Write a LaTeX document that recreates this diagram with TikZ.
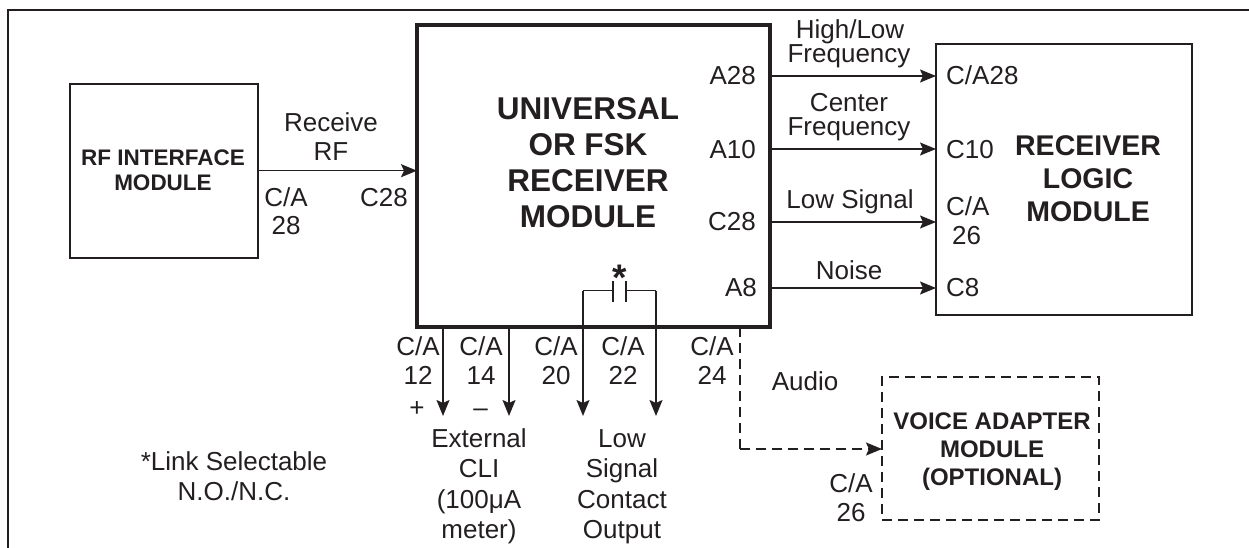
\documentclass[tikz,border=0pt]{standalone}
\usepackage{fontspec}
\setmainfont{Liberation Sans}
\usetikzlibrary{arrows.meta}
\definecolor{ink}{RGB}{35,31,32}
\tikzset{
  box/.style={draw=ink, line width=1.8pt, inner sep=0pt, outer sep=0pt},
  arr/.style={draw=ink, line width=1.6pt, -{Stealth[length=16pt,width=13pt,inset=3pt]}},
  dline/.style={draw=ink, line width=2pt, dash pattern=on 10pt off 6pt},
  t/.style={inner sep=0pt, anchor=base, text=ink, font=\fontsize{26}{30}\selectfont},
  tl/.style={t, anchor=base west},
  tr/.style={t, anchor=base east},
  bmain/.style={t, font=\fontsize{31.5}{36}\selectfont\bfseries},
  brf/.style={t, font=\fontsize{22.5}{26}\selectfont\bfseries},
  blog/.style={t, font=\fontsize{28.5}{32}\selectfont\bfseries},
  bvoice/.style={t, font=\fontsize{24}{28}\selectfont\bfseries},
}
\begin{document}
\begin{tikzpicture}[x=1pt, y=-1pt]
\useasboundingbox (0,0) rectangle (1249,548);
% frame
\draw[ink, line width=2.5pt] (8,560) -- (8,10) -- (1260,10);

% boxes
\node[box, minimum width=188pt, minimum height=174pt] (rf) at (164,170.7) {};
\node[box, line width=4.5pt, minimum width=353pt, minimum height=302pt] (main) at (593.5,176) {};
\node[box, minimum width=256pt, minimum height=271pt] (logic) at (1064,179.7) {};
\node[box, dline, minimum width=217pt, minimum height=143pt] (voice) at (990.5,448.5) {};

% RF interface text
\node[brf] (rf1) at (163,166) {RF INTERFACE};
\node[brf] (rf2) at (163,190) {MODULE};
\node[t] (rcv1) at (331,132) {Receive};
\node[t] (rcv2) at (331,160.5) {RF};
\node[t] (rfca) at (286,206) {C/A};
\node[t] (rf28) at (286,234.5) {28};
\node[t] (mc28) at (384,206) {C28};
\draw[arr] (rf.east) -- (main.west |- rf.east);

% main box text
\node[bmain] (m1) at (588,119.7) {UNIVERSAL};
\node[bmain] (m2) at (588,156) {OR FSK};
\node[bmain] (m3) at (588,192) {RECEIVER};
\node[bmain] (m4) at (588,227.5) {MODULE};
\node[tr] (pa28) at (756,84.8) {A28};
\node[tr] (pa10) at (756,158.8) {A10};
\node[tr] (pc28) at (756,230.3) {C28};
\node[tr] (pa8) at (757,296.6) {A8};

% outputs to logic
\coordinate (oA28) at (770,76);
\coordinate (oA10) at (770,149);
\coordinate (oC28) at (770,222);
\coordinate (oA8) at (770,288);
\draw[arr] (oA28) -- (oA28 -| logic.west);
\draw[arr] (oA10) -- (oA10 -| logic.west);
\draw[arr] (oC28) -- (oC28 -| logic.west);
\draw[arr] (oA8) -- (oA8 -| logic.west);
\node[t] (hl1) at (850,38.4) {High/Low};
\node[t] (hl2) at (849,62.8) {Frequency};
\node[t] (cf1) at (849,111.7) {Center};
\node[t] (cf2) at (849,135.4) {Frequency};
\node[t] (ls) at (850,208.7) {Low Signal};
\node[t] (ns) at (849,279) {Noise};

% logic box text
\node[tl] (lca28) at (946,84.8) {C/A28};
\node[tl] (lc10) at (946,158.8) {C10};
\node[tl] (lca) at (946,215) {C/A};
\node[tl] (l26) at (952,244.3) {26};
\node[tl] (lc8) at (946,296.6) {C8};
\node[blog] (lg1) at (1088,155.3) {RECEIVER};
\node[blog] (lg2) at (1088,188.5) {LOGIC};
\node[blog] (lg3) at (1088,221.6) {MODULE};

% bottom outputs
\coordinate (b12) at (443,327);
\coordinate (b14) at (509,327);
\coordinate (b20) at (583,290.5);
\coordinate (b22) at (656,290.5);
\coordinate (e12) at (443,416);
\coordinate (e14) at (509,416);
\coordinate (e20) at (583,416);
\coordinate (e22) at (656,416);
\draw[arr] (b12) -- (e12);
\draw[arr] (b14) -- (e14);
\draw[arr] (b20) -- (e20);
\draw[arr] (b22) -- (e22);
% link capacitor
\coordinate (pl1t) at (613,281);
\coordinate (pl1b) at (613,302);
\coordinate (pl2t) at (626,281);
\coordinate (pl2b) at (626,302);
\draw[ink, line width=1.6pt] (b20) -- (b20 -| pl1t);
\draw[ink, line width=1.6pt] (b22) -- (b22 -| pl2t);
\draw[ink, line width=1.8pt] (pl1t) -- (pl1b);
\draw[ink, line width=1.8pt] (pl2t) -- (pl2b);
\node[t, font=\fontsize{37}{40}\selectfont\bfseries] (star) at (620,290) {*};

\node[t] (ca12) at (418,355.3) {C/A};
\node[t] (n12) at (418,384) {12};
\node[t] (plus) at (417,416) {+};
\node[t] (ca14) at (481,355.3) {C/A};
\node[t] (n14) at (481,384) {14};
\node[t] (minus) at (480.5,416) {–};
\node[t] (ca20) at (556,355.3) {C/A};
\node[t] (n20) at (556,384) {20};
\node[t] (ca22) at (623,355.3) {C/A};
\node[t] (n22) at (623,384) {22};
\node[t] (ca24) at (712,355.3) {C/A};
\node[t] (n24) at (712,384) {24};

\node[t] (ex1) at (479,447) {External};
\node[t] (ex2) at (479,477) {CLI};
\node[t] (ex3) at (479,508) {(100μA};
\node[t] (ex4) at (479,538) {meter)};
\node[t] (lo1) at (622,447) {Low};
\node[t] (lo2) at (622,477) {Signal};
\node[t] (lo3) at (622,508) {Contact};
\node[t] (lo4) at (622,538) {Output};

% audio to voice adapter
\coordinate (a24) at (740,327);
\coordinate (acorner) at (740,449);
\draw[dline] (a24) -- (acorner);
\draw[dline, arr, dash pattern=on 10pt off 6pt] (acorner) -- (voice.west |- acorner);
\node[t] (aud) at (805,390) {Audio};
\node[bvoice] (v1) at (992,429) {VOICE ADAPTER};
\node[bvoice] (v2) at (992,457) {MODULE};
\node[bvoice] (v3) at (992,485) {(OPTIONAL)};
\node[t] (vca) at (851,492.8) {C/A};
\node[t] (v26) at (851,521.5) {26};

% note
\node[t] (note1) at (234,470) {*Link Selectable};
\node[t] (note2) at (234,500) {N.O./N.C.};
\end{tikzpicture}
\end{document}
